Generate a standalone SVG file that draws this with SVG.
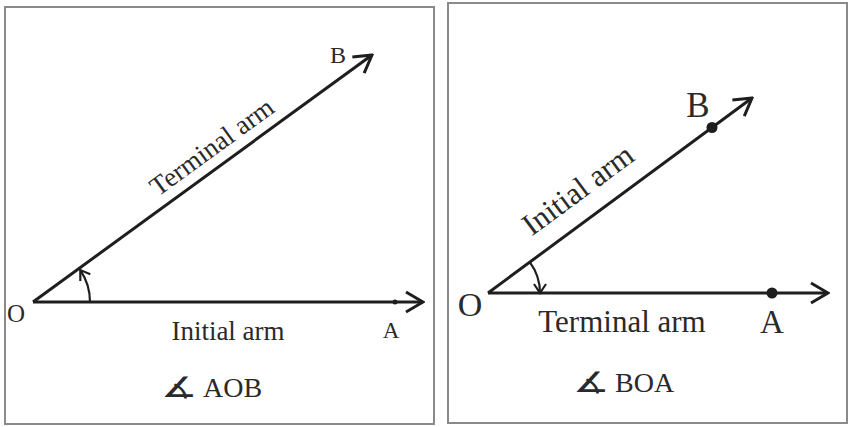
<svg xmlns="http://www.w3.org/2000/svg" width="855" height="427" viewBox="0 0 855 427">
<style>
.box{fill:#fff;stroke:#8a8a8a;stroke-width:2}
.arm{stroke:#1e1e1e;stroke-width:3;fill:none}
.arc{stroke:#1e1e1e;stroke-width:2.2;fill:none}
.t{font-family:"Liberation Serif","Times New Roman",serif;fill:#2a2a2a}
.sym{font-family:"DejaVu Serif","DejaVu Sans",serif;fill:#2a2a2a}
.dot{fill:#1e1e1e}
</style>
<defs>
<marker id="big" markerUnits="userSpaceOnUse" viewBox="0 0 20 24" refX="18" refY="12" markerWidth="20" markerHeight="24" orient="auto">
<path d="M1,2 L18,12 L1,22" fill="none" stroke="#1e1e1e" stroke-width="3"/>
</marker>
<marker id="small" markerUnits="userSpaceOnUse" viewBox="0 0 12 14" refX="10" refY="7" markerWidth="12" markerHeight="14" orient="auto">
<path d="M1,1 L10,7 L1,13" fill="none" stroke="#1e1e1e" stroke-width="2.2"/>
</marker>
</defs>
<rect width="855" height="427" fill="#fff"/>
<g id="panel-left">
<rect class="box" x="5" y="7" width="429" height="417"/>
</g>
<g id="panel-right">
<rect class="box" x="448" y="3" width="399" height="420"/>
</g>
<g id="connectors">
<line class="arm" x1="33" y1="302" x2="423" y2="302" marker-end="url(#big)"/>
<line class="arm" x1="33" y1="302" x2="372" y2="55" marker-end="url(#big)"/>
<path class="arc" d="M90,302 A57,57 0 0 0 80.3,270.1" marker-end="url(#small)"/>
<line class="arm" x1="488" y1="293" x2="828" y2="293" stroke-width="2.6" marker-end="url(#big)"/>
<line class="arm" x1="488" y1="293" x2="752" y2="98" stroke-width="2.6" marker-end="url(#big)"/>
<path class="arc" d="M529.8,262.1 A52,52 0 0 1 540,293" marker-end="url(#small)"/>
</g>
<g id="point-A-left"><circle class="dot" cx="395" cy="302" r="2.5"/><text class="t" x="391" y="338" font-size="23" text-anchor="middle">A</text></g>
<g id="point-O-left"><text class="t" x="16" y="322" font-size="25" text-anchor="middle">O</text></g>
<g id="point-B-left"><text class="t" x="338" y="63" font-size="24" text-anchor="middle">B</text></g>
<g id="label-terminal-left"><text class="t" x="217" y="154" font-size="27" text-anchor="middle" transform="rotate(-36.08 217 154)">Terminal arm</text></g>
<g id="label-initial-left"><text class="t" x="228" y="340" font-size="27" text-anchor="middle">Initial arm</text></g>
<g id="caption-left">
<text class="sym" font-size="28" transform="translate(161 397) scale(1.45 1)">∡</text>
<text class="t" x="203" y="397" font-size="28">AOB</text>
</g>
<g id="point-A-right"><circle class="dot" cx="772" cy="293" r="5.5"/><text class="t" x="772" y="333" font-size="33" text-anchor="middle">A</text></g>
<g id="point-B-right"><circle class="dot" cx="712" cy="127.5" r="5.5"/><text class="t" x="698" y="117" font-size="35" text-anchor="middle">B</text></g>
<g id="point-O-right"><text class="t" x="470" y="316" font-size="34" text-anchor="middle">O</text></g>
<g id="label-initial-right"><text class="t" x="584" y="198" font-size="31" text-anchor="middle" transform="rotate(-36.45 584 198)">Initial arm</text></g>
<g id="label-terminal-right"><text class="t" x="622" y="332" font-size="31" text-anchor="middle">Terminal arm</text></g>
<g id="caption-right">
<text class="sym" font-size="28" transform="translate(573 392) scale(1.45 1)">∡</text>
<text class="t" x="615" y="392" font-size="28">BOA</text>
</g>
</svg>
